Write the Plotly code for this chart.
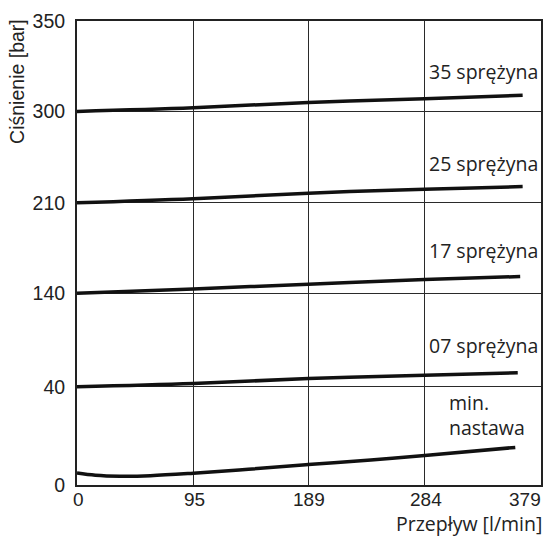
import numpy as np
import plotly.graph_objects as go

# ---- data -------------------------------------------------------------
X_TICKS = [0, 95, 189, 284, 379]
Y_TICKS = [0, 40, 140, 210, 300, 350]          # non-linear pressure axis (bar)

x_35 = [0, 95, 189, 284, 364]
p_35 = [300, 302, 305, 307, 309]
x_25 = [0, 95, 189, 284, 364]
p_25 = [210, 214, 219.5, 223.5, 226]
x_17 = [0, 95, 189, 284, 362]
p_17 = [140, 143.3, 147.1, 150.7, 153]
x_07 = [0, 95, 189, 284, 360]
p_07 = [40, 43.5, 48.7, 52.3, 55]
x_min = [0, 15, 35, 60, 95, 140, 189, 240, 284, 358]
p_min = [4.9, 4.0, 3.6, 3.8, 4.8, 6.4, 8.3, 10.2, 12.0, 15.3]

labels = ["35 sprężyna", "25 sprężyna", "17 sprężyna", "07 sprężyna", "min.<br>nastawa"]

# scale of the broken pressure axis: position of each y tick along the axis
Y_SCALE = [0, 100, 195, 287, 380, 472]


def ypos(v):
    return np.interp(v, Y_TICKS, Y_SCALE)


W, H = 553, 538
L, R, T, B = 77, 9.5, 13, 53
pw, ph = W - L - R, H - T - B

fig = go.Figure()
series = [(x_35, p_35), (x_25, p_25), (x_17, p_17), (x_07, p_07), (x_min, p_min)]
for xs, ps in series:
    fig.add_trace(go.Scatter(x=xs, y=ypos(ps), mode="lines",
                             line=dict(color="#111111", width=3.5, shape="spline", smoothing=1.0),
                             hoverinfo="skip", showlegend=False))

LAB_FONT = dict(family="Open Sans", size=19.5, color="#222222")
TITLE_FONT = dict(family="Open Sans", size=19.5, color="#222222")
TICK_FONT = dict(family="Liberation Sans, Arial", size=19.5, color="#222222")
XTICK_FONT = dict(family="Liberation Sans, Arial", size=19, color="#222222")


def py(pix):
    """pixel y (from top) -> paper coordinate"""
    return 1 - (pix - T) / ph


def px(pix):
    return (pix - L) / pw


ann = []
label_pos = [(431, 64), (431, 158), (431, 246), (431, 343)]
for (lx, ly), t in zip(label_pos, labels[:4]):
    ann.append(dict(x=px(lx), y=py(ly), xref="paper", yref="paper", text=t, showarrow=False,
                    xanchor="left", yanchor="middle", font=LAB_FONT, xshift=-2))
ann.append(dict(x=px(449), y=py(414), xref="paper", yref="paper", text=labels[4], showarrow=False,
                xanchor="left", yanchor="middle", align="left", font=LAB_FONT))

# x tick labels
for i, v in enumerate(X_TICKS):
    ann.append(dict(x=v, y=py(488), xref="x", yref="paper", text=str(v), showarrow=False,
                    xanchor="right" if i == len(X_TICKS) - 1 else "center", yanchor="top",
                    font=XTICK_FONT, xshift=1, borderpad=0))

# axis titles
ann.append(dict(x=px(546), y=py(538.5), xref="paper", yref="paper", text="Przepływ [l/min]",
                showarrow=False, xanchor="right", yanchor="bottom", font=TITLE_FONT, borderpad=0))
ann.append(dict(x=px(16), y=py(9), xref="paper", yref="paper", text="Ciśnienie [bar]",
                showarrow=False, textangle=-90, xanchor="center", yanchor="top", font=TICK_FONT))

fig.update_layout(
    width=W, height=H, margin=dict(l=L, r=R, t=T, b=B),
    paper_bgcolor="white", plot_bgcolor="white",
    annotations=ann,
    xaxis=dict(range=[0, 379], tickvals=X_TICKS, showticklabels=False, showgrid=True,
               gridcolor="#2a2a2a", gridwidth=1.3, zeroline=False, showline=True,
               linecolor="#222222", linewidth=2, mirror=True, ticks=""),
    yaxis=dict(range=[0, Y_SCALE[-1]], tickvals=[ypos(v) for v in Y_TICKS],
               ticktext=[str(v) for v in Y_TICKS], tickfont=TICK_FONT, showgrid=True,
               gridcolor="#2a2a2a", gridwidth=1.3, zeroline=False, showline=True,
               linecolor="#222222", linewidth=2, mirror=True, ticks="", ticklabelstandoff=6),
)

fig.write_html("out.html")
